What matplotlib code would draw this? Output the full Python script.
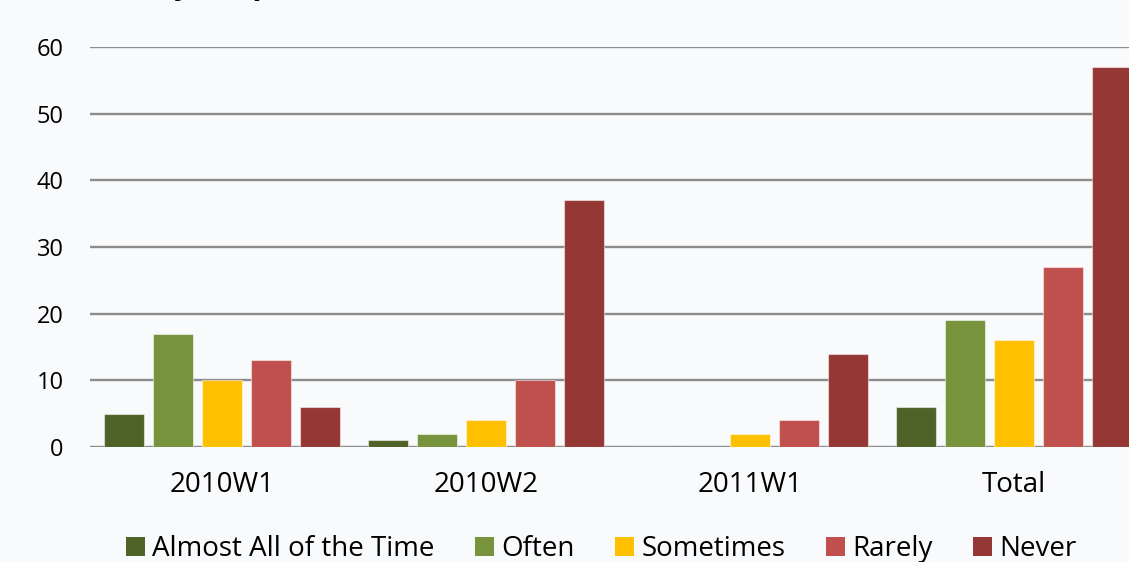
import matplotlib
matplotlib.use("Agg")
import numpy as np
import matplotlib.pyplot as plt
from matplotlib.patches import Patch

categories = ["2010W1", "2010W2", "2011W1", "Total"]
series_names = ["Almost All of the Time", "Often", "Sometimes", "Rarely", "Never"]
almost_all = [5, 1, 0, 6]
often = [17, 2, 0, 19]
sometimes = [10, 4, 2, 16]
rarely = [13, 10, 4, 27]
never = [6, 37, 14, 57]
yticks = [0, 10, 20, 30, 40, 50, 60]
title = "Use of Study Help"

colors = ["#4f6228", "#77933c", "#ffc000", "#c0504d", "#953735"]
bg = "#f9fafc"
grid_c = "#8c8c8c"

plt.rcParams["font.family"] = ["Open Sans", "DejaVu Sans"]

W, H = 1129, 562
fig = plt.figure(figsize=(W / 100, H / 100), dpi=100, facecolor=bg)
# plot area runs past the right edge, like the cropped original
ax = fig.add_axes([90 / W, (H - 447) / H, 1056 / W, 400 / H], facecolor=bg)

x = np.arange(len(categories))
pitch = 0.1847
width = 0.1515
values = [almost_all, often, sometimes, rarely, never]
for i, (vals, c) in enumerate(zip(values, colors)):
    ax.bar(x + (i - 2) * pitch, vals, width, color=c, edgecolor=(1, 1, 1, 0.5),
           linewidth=0.8, zorder=3)

ax.set_xlim(-0.5, len(categories) - 0.5)
ax.set_ylim(0, 60)
ax.set_yticks(yticks)
ax.set_xticks(x)
ax.set_xticklabels(categories, fontsize=20)
ax.tick_params(axis="y", length=0, pad=19, labelsize=17)
ax.tick_params(axis="x", length=0, pad=17)
for s in ax.spines.values():
    s.set_visible(False)
ax.grid(axis="y", color=grid_c, linewidth=1.7, zorder=1)
ax.set_axisbelow(True)

# title, cut off by the top edge so only the descenders of "y" and "p" show
renderer = fig.canvas.get_renderer()


def text_w(s, size):
    t = fig.text(0, 0, s, fontsize=size, fontweight="bold")
    w = t.get_window_extent(renderer).width
    t.remove()
    return w


fs = 22
y_mid = text_w("Use of Stud", fs) + text_w("y", fs) / 2
p_mid = text_w("Use of Study Hel", fs) + text_w("p", fs) / 2
scale = 79 / (p_mid - y_mid)
fs *= scale
x0 = 183 - y_mid * scale
fig.text(x0 / W, 1 + 6 / H, title, fontsize=fs, fontweight="bold",
         ha="left", va="baseline")

handles = [Patch(facecolor=c, edgecolor="none") for c in colors]
fig.legend(handles, series_names, loc="center", bbox_to_anchor=(601 / W, 13 / H),
           ncol=5, frameon=False, fontsize=20, handlelength=0.7, handleheight=0.7,
           handletextpad=0.25, columnspacing=1.45, borderpad=0)

fig.savefig("out.png", dpi=100, facecolor=bg)
